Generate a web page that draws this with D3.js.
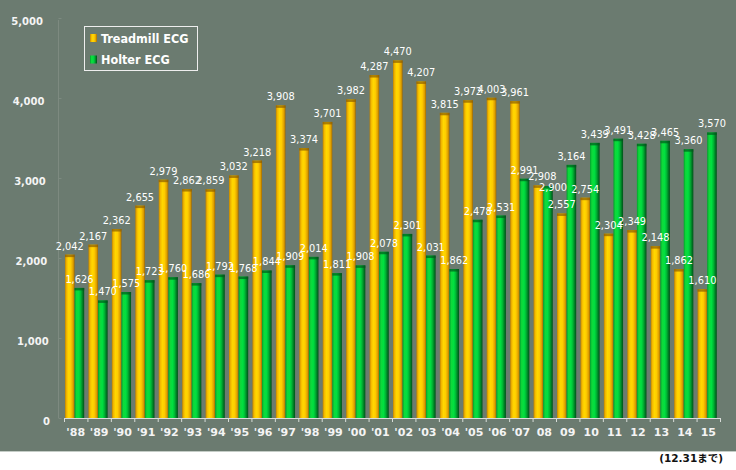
<!DOCTYPE html>
<html><head><meta charset="utf-8">
<script src="https://cdn.jsdelivr.net/npm/d3@7"></script>
<style>html,body{margin:0;padding:0;background:#fff;}svg{display:block;}</style>
</head><body>
<script>
const categories = ["'88","'89","'90","'91","'92","'93","'94","'95","'96","'97","'98","'99","'00","'01","'02","'03","'04","'05","'06","'07","08","09","10","11","12","13","14","15"];
const treadmill = [2042,2167,2362,2655,2979,2862,2859,3032,3218,3908,3374,3701,3982,4287,4470,4207,3815,3972,4003,3961,2908,2557,2754,2304,2349,2148,1862,1610];
const holter = [1626,1470,1575,1723,1760,1686,1792,1768,1844,1909,2014,1811,1908,2078,2301,2031,1862,2478,2531,2991,2900,3164,3439,3491,3428,3465,3360,3570];
const seriesNames = ["Treadmill ECG","Holter ECG"];
const yTicks = [0,1000,2000,3000,4000,5000];

const W = 736, H = 470;
const svg = d3.select("body").append("svg").attr("width", W).attr("height", H);
const defs = svg.append("defs");
function grad(id, stops){
  const g = defs.append("linearGradient").attr("id", id).attr("x1","0").attr("x2","1").attr("y1","0").attr("y2","0");
  stops.forEach(s => g.append("stop").attr("offset", s[0]).attr("stop-color", s[1]));
}
grad("gY", [[0,"#c08400"],[0.18,"#f4ba00"],[0.38,"#ffd800"],[0.6,"#ffcc00"],[0.85,"#dc9e00"],[1,"#a06800"]]);
grad("gG", [[0,"#00a02c"],[0.2,"#10d83a"],[0.45,"#00e040"],[0.65,"#00b834"],[0.85,"#007a24"],[1,"#005018"]]);

svg.append("rect").attr("x",0).attr("y",0).attr("width",W).attr("height",451).attr("fill","#6b7b70");
svg.append("line").attr("x1",0).attr("x2",W).attr("y1",451.5).attr("y2",451.5).attr("stroke","#c4ccc6");

const x = d3.scaleBand().domain(categories).range([64, 720]).paddingInner(0).paddingOuter(0);
const y = d3.scaleLinear().domain([0, 5000]).range([418, 18]);

// faint vertical axis
svg.append("line").attr("x1",58.5).attr("x2",58.5).attr("y1",y(5000)+2).attr("y2",y(0)).attr("stroke","#7d8a80");
yTicks.forEach(t => {
  svg.append("line").attr("x1",58.5).attr("x2",61.5).attr("y1",y(t)+0.5).attr("y2",y(t)+0.5).attr("stroke","#7d8a80");
  svg.append("text").attr("x", 50 - 1.4 * t / 1000).attr("y", y(t) + 6.5).attr("text-anchor","end")
    .attr("font-family","DejaVu Sans").attr("font-weight","bold").attr("font-size","10px").attr("fill","#f4f4f4")
    .text(d3.format(",")(t));
});

const bw = x.bandwidth();
const barW = 9.6;
const series = [
  {vals: treadmill, fill: "url(#gY)", cap: "#8a5c00", off: 1},
  {vals: holter, fill: "url(#gG)", cap: "#005a1c", off: 1 + barW}
];
series.forEach(s => {
  const g = svg.append("g");
  categories.forEach((c, i) => {
    const v = s.vals[i];
    const bx = x(c) + s.off;
    g.append("rect").attr("x", bx).attr("y", y(v)).attr("width", barW).attr("height", y(0) - y(v)).attr("fill", s.fill);
    g.append("rect").attr("x", bx).attr("y", y(v)).attr("width", barW).attr("height", 2.5).attr("fill", s.cap).attr("opacity",0.7);
  });
});

// x axis line and ticks
svg.append("line").attr("x1",64).attr("x2",720).attr("y1",418.5).attr("y2",418.5).attr("stroke","#d8dcd8");
categories.forEach((c,i) => {
  svg.append("line").attr("x1",x(c)+0.5).attr("x2",x(c)+0.5).attr("y1",418).attr("y2",422).attr("stroke","#d8dcd8");
  svg.append("text").attr("x", x(c)+bw/2).attr("y", 436).attr("text-anchor","middle")
    .attr("font-family","DejaVu Sans").attr("font-weight","bold").attr("font-size","11px").attr("fill","#f4f4f4").text(c);
});
svg.append("line").attr("x1",720.5).attr("x2",720.5).attr("y1",418).attr("y2",422).attr("stroke","#d8dcd8");

// data labels (when both labels of a category collide, the second is nudged down/right as in the reference)
categories.forEach((c,i) => {
  const pos = series.map(s => ({x: x(c) + s.off + barW/2, y: y(s.vals[i]) - 5, v: s.vals[i]}));
  if (Math.abs(pos[0].y - pos[1].y) < 11) {
    pos[0].x += 4;
    pos[1].x += 5;
    pos[1].y = pos[0].y + 11;
  }
  pos.forEach(p => {
    svg.append("text").attr("x", p.x).attr("y", p.y).attr("text-anchor","middle")
      .attr("font-family","DejaVu Sans").attr("font-size","9.8px").attr("fill","#ffffff")
      .text(d3.format(",")(p.v));
  });
});

// legend
const lg = svg.append("g");
lg.append("rect").attr("x",84.5).attr("y",26.5).attr("width",113).attr("height",44).attr("fill","none").attr("stroke","#eeeeee").attr("stroke-width",1);
[["url(#gY)",34],["url(#gG)",55.5]].forEach((m,i) => {
  lg.append("rect").attr("x",90).attr("y",m[1]).attr("width",7).attr("height",8).attr("fill",m[0]);
  lg.append("text").attr("x",101).attr("y",m[1]+8.5).attr("font-family","DejaVu Sans Condensed, DejaVu Sans").attr("font-stretch","condensed")
    .attr("font-weight","bold").attr("font-size","12.5px").attr("fill","#ffffff").text(seriesNames[i]);
});

// footnote
svg.append("text").attr("x",723).attr("y",462).attr("text-anchor","end")
  .attr("font-family","DejaVu Sans, Noto Sans CJK JP").attr("font-weight","bold").attr("font-size","10.5px").attr("fill","#111")
  .text("(12.31まで)");
</script>
</body></html>
